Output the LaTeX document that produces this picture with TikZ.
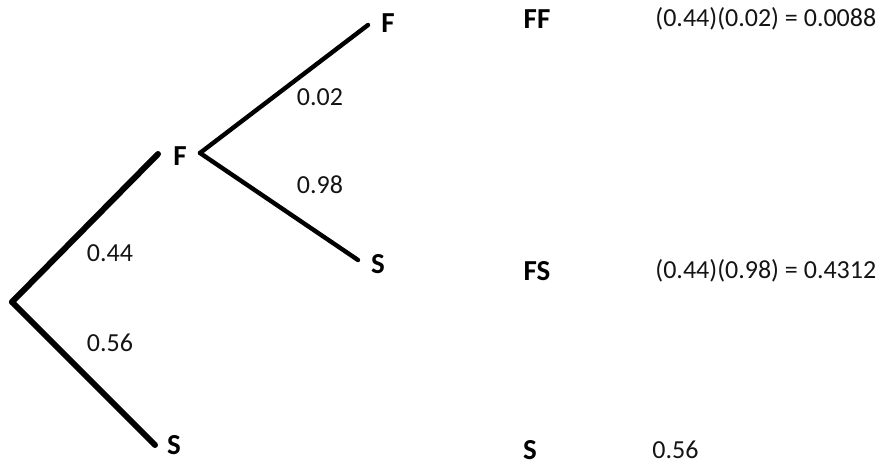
\documentclass[tikz,border=0pt]{standalone}
\usepackage{fontspec}
\setmainfont{Carlito}
\usepackage{tikz}
\usetikzlibrary{positioning}
\definecolor{mydark}{RGB}{20,20,20}
\tikzset{
  outcome/.style={font=\fontsize{14.5}{16}\selectfont\bfseries, inner sep=1pt, color=black},
  prob/.style={font=\fontsize{13}{15}\selectfont, inner sep=1pt, color=mydark},
  result/.style={font=\fontsize{13}{15}\selectfont, inner sep=0pt, anchor=west, color=mydark},
  thickbranch/.style={line width=3pt, color=black, line cap=round},
  thinbranch/.style={line width=2.2pt, color=black, line cap=round}
}
\begin{document}
\begin{tikzpicture}[x=0.5pt, y=-0.5pt]
  \useasboundingbox (0,0) rectangle (882,464);

  % First stage
  \coordinate (root) at (12,302);
  \coordinate (fend) at (158,154);
  \coordinate (send) at (155,445);
  \node[outcome] (f1) at (180,156) {F};
  \node[outcome] (s1) at (174,445) {S};
  \draw[thickbranch] (root) -- (fend);
  \draw[thickbranch] (root) -- (send);
  \node[prob] (p44) at (110,253) {0.44};
  \node[prob] (p56) at (110,343) {0.56};

  % Second stage after F
  \coordinate (fork) at (200,153);
  \coordinate (ffend) at (368,25);
  \coordinate (fsend) at (358,260);
  \node[outcome] (f2) at (388,23) {F};
  \node[outcome] (s2) at (378,264) {S};
  \draw[thinbranch] (fork) -- (ffend);
  \draw[thinbranch] (fork) -- (fsend);
  \node[prob] (p02) at (320,97) {0.02};
  \node[prob] (p98) at (320,185) {0.98};

  % Outcomes and probabilities
  \node[outcome] (ff) at (537,19) {FF};
  \node[outcome] (fs) at (537,271) {FS};
  \node[outcome] (ss) at (530,450) {S};
  \node[result] (rff) at (655,19) {(0.44)(0.02) = 0.0088};
  \node[result] (rfs) at (655,271) {(0.44)(0.98) = 0.4312};
  \node[result] (rss) at (652,450) {0.56};
\end{tikzpicture}
\end{document}
